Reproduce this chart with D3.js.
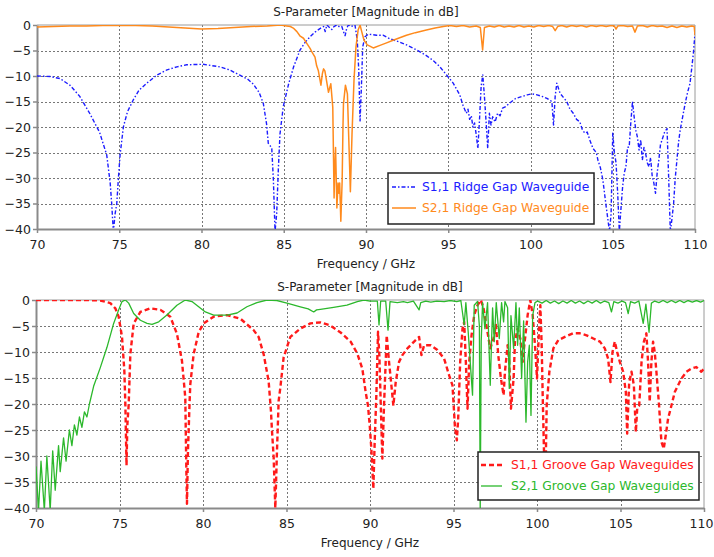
<!DOCTYPE html>
<html>
<head>
<meta charset="utf-8">
<script src="https://cdn.jsdelivr.net/npm/d3@7"></script>
<style>
  html, body { margin: 0; padding: 0; background: #fff; }
  svg { display: block; }
  text { font-family: "DejaVu Sans", Verdana, sans-serif; fill: #222; }
</style>
</head>
<body>
<svg id="chart" width="714" height="557"></svg>
<script>
// Frequency axis ticks (GHz) and magnitude ticks (dB)
const freqTicks = [70, 75, 80, 85, 90, 95, 100, 105, 110];
const dbTicks = [0, -5, -10, -15, -20, -25, -30, -35, -40];

const chartTitle = "S-Parameter [Magnitude in dB]";
const axisTitle = "Frequency / GHz";

// Ridge gap waveguide: [frequency GHz, magnitude dB]
const s11Ridge = [
  [70,-10],[70.8,-10.1],[71.4,-10.5],[72.0,-11.8],[72.6,-14],[73.2,-17.3],[73.8,-21],[74.24,-25.5],
  [74.45,-31],[74.54,-35],[74.64,-40.5],[74.75,-37],[74.85,-35],[74.95,-30],[75.05,-25.5],[75.25,-20],
  [75.5,-17],[75.85,-14.7],[76.2,-12.8],[76.67,-11.4],[77.3,-9.8],[77.9,-8.8],[78.5,-8.2],[79.1,-7.8],
  [80.1,-7.7],[81.1,-8.2],[81.7,-8.8],[82.3,-9.8],[82.8,-10.6],[83.15,-11.6],[83.5,-13.2],[83.76,-15.4],
  [83.96,-19.5],[84.06,-23.2],[84.27,-24.1],[84.37,-30.4],[84.47,-40.5],[84.57,-37],[84.67,-28.4],
  [84.77,-21.4],[84.97,-16],[85.3,-11.5],[85.6,-8.2],[85.99,-4.9],[86.3,-3.4],[86.6,-2.3],[86.9,-1.4],
  [87.2,-0.7],[87.42,-0.3],[87.52,-1.3],[87.62,0],[87.75,-0.4],[87.92,-0.9],[88.05,-0.3],[88.23,0],
  [88.4,-0.4],[88.53,-0.3],[88.63,-1.3],[88.73,-2.1],[88.83,-0.6],[88.93,0],[89.1,-0.3],[89.33,0],
  [89.47,-3],[89.56,-8.9],[89.64,-18.8],[89.72,-12.2],[89.8,-4.3],[89.94,-2.3],[90.14,-1.8],[90.64,-2.0],
  [91.03,-2.0],[91.45,-2.7],[92.0,-3.3],[92.46,-3.9],[93.08,-4.9],[93.67,-6],[94.1,-7],[94.49,-8.2],
  [94.9,-9.8],[95.3,-11.4],[95.7,-13.7],[95.9,-15.8],[96.1,-17.3],[96.2,-16.5],[96.3,-18.5],[96.4,-17.8],
  [96.5,-20],[96.6,-19.2],[96.7,-21.5],[96.8,-24.2],[96.9,-18.6],[97.0,-12],[97.1,-9.8],[97.2,-14],
  [97.3,-19],[97.4,-24.2],[97.5,-17.3],[97.6,-19.6],[97.7,-18],[97.85,-19],[98.0,-17.3],[98.15,-17.8],
  [98.3,-16.3],[98.5,-16],[98.7,-15.4],[99.1,-14.4],[99.5,-14],[99.8,-13.7],[100.1,-13.5],[100.4,-13.7],
  [100.7,-14],[101.0,-14.4],[101.3,-15],[101.4,-19.6],[101.5,-14],[101.6,-11.4],[101.8,-13.4],[102.0,-14.2],
  [102.2,-15],[102.4,-16.5],[102.6,-17.3],[102.8,-18.5],[103.0,-19],[103.15,-20.5],[103.3,-21.2],
  [103.45,-21],[103.6,-22.5],[103.8,-24.2],[104.0,-25],[104.1,-26.5],[104.25,-28],[104.4,-30.4],
  [104.5,-33],[104.6,-35.6],[104.7,-38],[104.8,-40.5],[104.9,-37],[105.0,-21.2],[105.1,-25],[105.2,-27],
  [105.3,-33],[105.4,-40.5],[105.5,-36],[105.6,-31.7],[105.7,-29],[105.8,-27.8],[105.9,-24],[106.0,-23.9],
  [106.1,-19],[106.2,-15],[106.3,-18],[106.4,-20.6],[106.5,-22],[106.6,-24.5],[106.7,-22.5],[106.8,-26.5],
  [106.9,-24],[107.0,-25.2],[107.1,-27],[107.2,-27.8],[107.3,-26],[107.4,-29.7],[107.5,-31],[107.6,-33],
  [107.7,-29],[107.8,-26.5],[107.9,-23.5],[108.0,-22.5],[108.15,-21],[108.3,-20.3],[108.4,-30],
  [108.5,-40.5],[108.6,-38],[108.7,-35],[108.8,-30],[108.9,-26.5],[109.0,-23],[109.1,-20.6],[109.25,-18],
  [109.4,-15.4],[109.55,-13.2],[109.7,-11.4],[109.8,-8.5],[109.9,-5.6],[110,-1.6]
];

const s21Ridge = [
  [70,-0.4],[71,-0.3],[72,-0.2],[73,-0.2],[74,-0.1],[75,-0.1],[76,-0.1],[77,-0.2],[78,-0.4],[79,-0.6],
  [80,-0.8],[81,-0.7],[82,-0.5],[83,-0.3],[84,-0.2],[84.8,0],[85.18,-0.2],[85.4,-0.3],[85.58,-0.6],
  [85.8,-1.3],[86.0,-2.2],[86.2,-2.6],[86.4,-3.6],[86.6,-4.6],[86.7,-5.2],[86.9,-6.3],[87.0,-8.0],
  [87.1,-8.9],[87.26,-11.8],[87.35,-9.5],[87.42,-8.6],[87.5,-9],[87.58,-10.5],[87.72,-13.2],[87.86,-11.5],
  [87.98,-16.1],[88.06,-33.9],[88.1,-28],[88.15,-24],[88.23,-35.9],[88.3,-31],[88.35,-33],[88.4,-31],
  [88.47,-38.5],[88.55,-30.6],[88.6,-20],[88.63,-15.5],[88.75,-11.8],[88.87,-13.5],[88.95,-22],
  [89.05,-32.7],[89.15,-21.4],[89.27,-10.9],[89.39,-4.3],[89.52,-1.0],[89.64,0],[89.74,-1.3],[89.88,-3],
  [90.08,-3.9],[90.44,-4.5],[90.85,-4.0],[91.25,-3.5],[91.65,-3.0],[92.05,-2.5],[92.46,-2.0],[93.0,-1.5],
  [93.67,-1.0],[94.2,-0.6],[94.7,-0.3],[95.1,-0.1],[95.5,-0.3],[95.9,-0.1],[96.3,-0.4],[96.7,-0.2],
  [96.95,-0.5],[97.09,-4.9],[97.2,-0.5],[97.5,-0.2],[97.8,-0.4],[98.1,-0.1],[98.4,-0.4],[98.7,-0.2],
  [99.0,-0.4],[99.3,-0.1],[99.6,-0.4],[99.9,-0.2],[100.2,-0.4],[100.5,-0.1],[100.8,-0.3],[101.1,-0.1],
  [101.35,-0.3],[101.5,-1.1],[101.65,-0.3],[101.9,-0.1],[102.2,-0.4],[102.5,-0.1],[102.8,-0.3],
  [103.1,-0.1],[103.4,-0.4],[103.7,-0.1],[104.0,-0.3],[104.3,-0.1],[104.6,-0.3],[104.9,-0.1],[105.1,-0.2],
  [105.2,-0.8],[105.3,-0.2],[105.6,-0.1],[105.9,-0.3],[106.2,-0.2],[106.35,-1.4],[106.5,-0.2],[106.8,-0.1],
  [107.1,-0.4],[107.4,-0.1],[107.7,-0.3],[108.0,-0.2],[108.3,-0.5],[108.6,-0.2],[108.9,-0.5],[109.2,-0.2],
  [109.5,-0.4],[109.8,-0.2],[109.95,-0.3],[110,-2]
];

// Groove gap waveguides: [frequency GHz, magnitude dB]
const s11Groove = [
  [70,0],[71,0],[72,0],[73,0],[73.85,-0.1],[74.45,-0.6],[74.75,-1.6],[74.95,-3.2],[75.15,-7.1],
  [75.29,-13.6],[75.35,-20],[75.38,-25],[75.42,-31.8],[75.47,-24],[75.55,-20.1],[75.65,-10.4],[75.85,-4.5],
  [76.25,-2.3],[76.85,-1.6],[77.45,-1.9],[78.04,-3.2],[78.44,-6.5],[78.74,-11.7],[78.94,-18.8],[79.0,-32],
  [79.04,-39.2],[79.1,-29],[79.2,-19.4],[79.24,-16.2],[79.44,-10.4],[79.74,-6.2],[80.04,-4.5],[80.64,-3.2],
  [81.44,-2.9],[82.24,-3.6],[83.03,-5.8],[83.33,-7.1],[83.63,-10.4],[83.93,-15.6],[84.07,-21.4],
  [84.13,-25.1],[84.23,-30.2],[84.33,-40],[84.43,-29],[84.53,-19.4],[84.63,-16.9],[84.83,-11],[85.23,-7.1],
  [85.83,-5.5],[86.43,-4.5],[87.03,-4.3],[87.62,-4.9],[88.22,-6.2],[88.84,-8],[89.24,-10.3],[89.54,-13.2],
  [89.74,-17.7],[89.88,-20.3],[90.0,-24.8],[90.08,-28.6],[90.2,-36.3],[90.28,-27.3],[90.38,-18.3],
  [90.48,-6.1],[90.56,-10.6],[90.64,-19.6],[90.74,-30.5],[90.84,-20.3],[91.0,-6.8],[91.14,-11.9],
  [91.28,-16.4],[91.4,-20.3],[91.54,-15.8],[91.74,-11.9],[91.94,-10.6],[92.24,-9.3],[92.64,-8.0],
  [92.94,-7.1],[93.08,-10.6],[93.24,-8.7],[93.64,-8.7],[94.04,-9.6],[94.44,-11.3],[94.74,-14.5],
  [94.94,-16.4],[95.08,-24.1],[95.2,-27],[95.28,-22.8],[95.4,-11.9],[95.54,-5.5],[95.64,-4.2],[95.74,-11.9],
  [95.84,-20.9],[95.94,-11.9],[96.08,-6.8],[96.24,-2.9],[96.44,-1.0],[96.64,0],[96.8,-1.6],[97.0,-5.5],
  [97.2,-9.3],[97.4,-7.4],[97.54,-4.8],[97.68,-10.6],[97.84,-15.1],[98.0,-18.3],[98.08,-13.8],[98.24,-8.7],
  [98.34,-11.9],[98.44,-20.9],[98.6,-15.1],[98.68,-8.0],[98.84,-5.5],[99.0,-7.4],[99.14,-11.9],[99.24,-8.7],
  [99.44,-2.9],[99.6,0],[99.74,-2.9],[99.88,-8.7],[100.0,-15.1],[100.14,-4.2],[100.2,-1],[100.28,-8.7],
  [100.34,-18.3],[100.42,-29.3],[100.5,-36],[100.58,-20.3],[100.74,-13.8],[100.98,-9.3],[101.28,-7.7],
  [101.67,-7.1],[102.17,-6.4],[102.57,-6.4],[102.97,-6.8],[103.37,-7.4],[103.77,-8],[104.06,-9.3],
  [104.26,-11.3],[104.4,-15.8],[104.52,-10],[104.66,-8],[104.8,-10],[104.96,-11.9],[105.16,-13.8],
  [105.32,-17.7],[105.4,-25.7],[105.52,-15.8],[105.66,-13.8],[105.8,-16.4],[105.92,-25.4],[106.0,-20.9],
  [106.12,-20.3],[106.26,-11.9],[106.4,-8],[106.55,-6.4],[106.65,-11.9],[106.75,-19.6],[106.85,-11.9],
  [106.95,-8],[107.05,-10],[107.15,-13.8],[107.31,-20.3],[107.45,-27.3],[107.59,-28.6],[107.71,-26],
  [107.85,-22.8],[108.05,-20.3],[108.25,-17.7],[108.45,-16.4],[108.65,-15.1],[108.95,-13.8],[109.24,-13.2],
  [109.54,-12.9],[109.84,-13.8],[110,-13.2]
];

const s21Groove = [
  [70,-32],[70.15,-40.5],[70.3,-31],[70.5,-40.5],[70.65,-30],[70.85,-40.5],[71.0,-29],[71.15,-36.6],
  [71.35,-28],[71.45,-33],[71.65,-26.5],[71.8,-31],[72.0,-25],[72.15,-28],[72.3,-24],[72.45,-26],
  [72.6,-22.5],[72.75,-24.5],[72.9,-21.5],[73.05,-22.5],[73.2,-20],[73.45,-16.6],[73.85,-13],[74.25,-9.1],
  [74.65,-4.5],[74.95,-1.9],[75.15,-0.3],[75.35,0],[75.55,-0.6],[75.85,-2.6],[76.25,-3.9],[76.65,-4.5],
  [76.95,-4.7],[77.35,-4.2],[77.84,-2.9],[78.44,-1],[78.94,0],[79.34,-0.3],[79.74,-1.3],[80.14,-2.3],
  [80.64,-2.9],[81.44,-2.9],[82.04,-2.5],[82.63,-1.3],[83.23,-0.5],[83.83,0],[84.43,-0.1],[85.03,-0.6],
  [85.83,-1.3],[86.3,-1.7],[86.63,-2.3],[86.8,-1.9],[87.03,-1.8],[87.82,-1.4],[88.62,-1],[89.24,-0.3],
  [89.64,0],[90.0,-0.2],[90.44,-0.2],[90.54,-4.8],[90.64,-0.2],[90.94,-0.2],[91.08,-5.8],[91.2,-0.3],
  [91.64,-0.5],[92.0,-0.3],[92.24,-0.5],[92.6,-0.2],[92.94,-1.9],[93.04,-0.5],[93.34,-0.2],[93.64,-0.4],
  [94.0,-0.2],[94.44,-0.3],[94.8,-0.1],[95.2,-0.3],[95.44,-0.1],[95.64,-4.8],[95.74,-0.5],[95.88,-6.1],
  [96.0,-11.9],[96.14,-18.3],[96.24,-1],[96.44,-0.3],[96.55,-5],[96.6,-40.5],[96.66,-8],[96.74,-0.5],
  [96.88,-5.5],[97.04,-0.5],[97.2,-16.4],[97.34,-1.5],[97.44,-8],[97.56,-0.5],[97.74,-7.4],[97.88,-0.5],
  [98.0,-4.2],[98.08,-0.3],[98.24,-1.5],[98.34,-17],[98.44,-3],[98.6,-9.3],[98.74,-0.5],[98.84,-8.7],
  [98.94,-1.5],[99.08,-15.1],[99.2,-4],[99.34,-23.5],[99.44,-11.9],[99.54,-8.7],[99.64,-22.2],[99.74,-3],
  [99.88,-0.5],[100.04,-0.2],[100.3,-0.6],[100.55,-0.1],[100.8,-0.6],[101.05,-0.2],[101.3,-0.7],
  [101.55,-0.2],[101.8,-0.6],[102.05,-0.1],[102.3,-0.6],[102.55,-0.2],[102.8,-0.7],[103.05,-0.2],
  [103.3,-0.6],[103.55,-0.1],[103.8,-0.6],[104.05,-0.2],[104.3,-0.5],[104.46,-2.3],[104.6,-0.3],
  [104.85,-0.6],[105.1,-0.2],[105.3,-0.5],[105.46,-2.6],[105.6,-0.3],[105.85,-0.6],[106.1,-0.2],
  [106.36,-4.5],[106.52,-0.8],[106.71,-6.2],[106.85,-0.6],[107.05,-0.2],[107.3,-0.5],[107.55,-0.1],
  [107.8,-0.5],[108.05,-0.1],[108.3,-0.5],[108.55,-0.1],[108.8,-0.5],[109.05,-0.1],[109.3,-0.4],
  [109.55,-0.1],[109.8,-0.4],[110,-0.1]
];

const topLegend = ["S1,1 Ridge Gap Waveguide", "S2,1 Ridge Gap Waveguide"];
const bottomLegend = ["S1,1 Groove Gap Waveguides", "S2,1 Groove Gap Waveguides"];

const svg = d3.select("#chart");

function drawPanel(cfg) {
  const x = d3.scaleLinear().domain([70, 110]).range([cfg.left, cfg.right]);
  const y = d3.scaleLinear().domain([-40, 0]).range([cfg.bottom, cfg.top]);
  const g = svg.append("g");

  const clipId = "clip-" + cfg.id;
  g.append("clipPath").attr("id", clipId).append("rect")
    .attr("x", cfg.left).attr("y", cfg.top)
    .attr("width", cfg.right - cfg.left).attr("height", cfg.bottom - cfg.top);

  // title
  g.append("text").attr("x", (cfg.left + cfg.right) / 2).attr("y", cfg.titleY)
    .attr("text-anchor", "middle").style("font-size", "12px").text(chartTitle);

  // dotted grid
  const grid = g.append("g").attr("stroke", "#777").attr("stroke-width", 1)
    .attr("stroke-dasharray", "2,2").attr("shape-rendering", "crispEdges");
  grid.selectAll(".gx").data(freqTicks.slice(1, -1)).join("line")
    .attr("x1", d => Math.round(x(d)) + 0.5).attr("x2", d => Math.round(x(d)) + 0.5)
    .attr("y1", cfg.top).attr("y2", cfg.bottom);
  grid.selectAll(".gy").data(dbTicks.slice(1, -1)).join("line")
    .attr("y1", d => Math.round(y(d)) + 0.5).attr("y2", d => Math.round(y(d)) + 0.5)
    .attr("x1", cfg.left).attr("x2", cfg.right);

  // frame (top and right)
  g.append("path")
    .attr("d", `M${cfg.left},${cfg.top}H${cfg.right}V${cfg.bottom}`)
    .attr("fill", "none").attr("stroke", "#9a9a9a").attr("stroke-width", 1);

  // axes
  const xAxis = d3.axisBottom(x).tickValues(freqTicks).tickSize(4).tickSizeOuter(0).tickPadding(7);
  const yAxis = d3.axisLeft(y).tickValues(dbTicks).tickSize(4).tickSizeOuter(0).tickPadding(2);
  const ax = g.append("g").attr("transform", `translate(0,${cfg.bottom})`).call(xAxis);
  const ay = g.append("g").attr("transform", `translate(${cfg.left},0)`).call(yAxis);
  [ax, ay].forEach(a => {
    a.select(".domain").attr("stroke", "#8a8a8a").attr("stroke-width", 2);
    a.selectAll(".tick line").attr("stroke", "#8a8a8a").attr("stroke-width", 1.5);
    a.selectAll(".tick text").style("font-size", "12.5px")
      .style("font-family", '"DejaVu Sans", Verdana, sans-serif').attr("fill", "#222");
  });
  // keep the last frequency label inside the canvas
  ax.selectAll(".tick text").filter(d => d === 110).attr("dx", cfg.lastTickShift);

  g.append("text").attr("x", (cfg.left + cfg.right) / 2).attr("y", cfg.axisTitleY)
    .attr("text-anchor", "middle").style("font-size", "12px").text(axisTitle);

  // traces
  const line = d3.line().x(d => x(d[0])).y(d => y(d[1]));
  const traces = g.append("g").attr("clip-path", `url(#${clipId})`);
  cfg.series.forEach(s => {
    traces.append("path").datum(s.data).attr("d", line)
      .attr("fill", "none").attr("stroke", s.color).attr("stroke-width", s.width)
      .attr("stroke-dasharray", s.dash || null).attr("stroke-linejoin", "round");
  });

  // legend
  const L = cfg.legend;
  const lg = g.append("g");
  lg.append("rect").attr("x", L.x).attr("y", L.y).attr("width", L.w).attr("height", L.h)
    .attr("fill", "#fff").attr("stroke", "#222").attr("stroke-width", 1.5);
  cfg.series.forEach((s, i) => {
    const cy = L.y + L.first + i * L.step;
    lg.append("line").attr("x1", L.x + L.lineX0).attr("x2", L.x + L.lineX1)
      .attr("y1", cy).attr("y2", cy)
      .attr("stroke", s.color).attr("stroke-width", s.width).attr("stroke-dasharray", s.dash || null);
    lg.append("text").attr("x", L.x + L.textX).attr("y", cy).attr("dy", "0.35em")
      .style("font-size", "12.3px").style("fill", s.color).text(L.labels[i]);
  });
}

drawPanel({
  id: "ridge", left: 37, right: 695, top: 25, bottom: 229,
  titleY: 16, axisTitleY: 268, lastTickShift: 0,
  series: [
    { data: s11Ridge, color: "#1c1cff", width: 1.4, dash: "4,2,1.5,2" },
    { data: s21Ridge, color: "#ff8a1c", width: 1.5 }
  ],
  legend: { x: 388, y: 173, w: 206, h: 51, first: 14, step: 21,
            lineX0: 4, lineX1: 28, textX: 34, labels: topLegend }
});

drawPanel({
  id: "groove", left: 36, right: 704, top: 300, bottom: 508,
  titleY: 291, axisTitleY: 547, lastTickShift: -3,
  series: [
    { data: s11Groove, color: "#ff1a1a", width: 2.4, dash: "5,3" },
    { data: s21Groove, color: "#2cb82c", width: 1.3 }
  ],
  legend: { x: 478, y: 452, w: 221, h: 48, first: 13, step: 21,
            lineX0: 3, lineX1: 24, textX: 33, labels: bottomLegend }
});
</script>
</body>
</html>
